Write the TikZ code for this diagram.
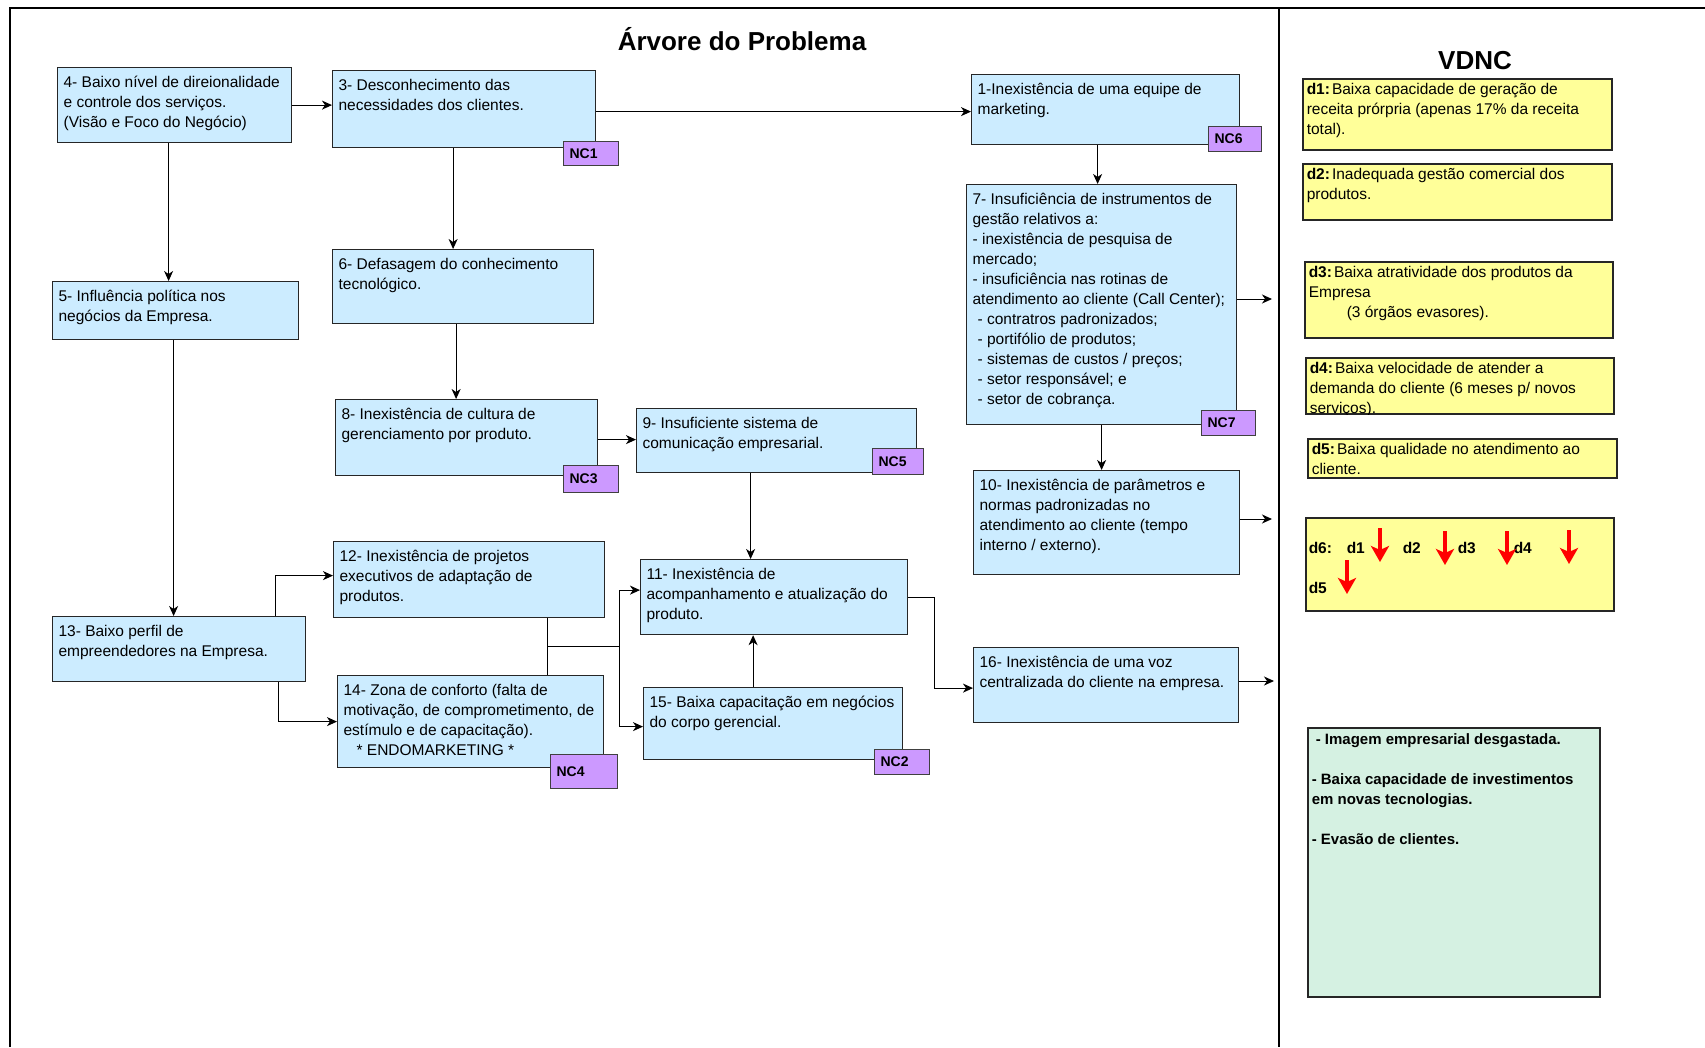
\documentclass[tikz,border=0pt]{standalone}
\usepackage{fontspec}
\setmainfont{Liberation Sans}
\usetikzlibrary{arrows.meta}

\definecolor{probblue}{HTML}{CCECFF}
\definecolor{ncpurple}{HTML}{CC99FF}
\definecolor{vdncyellow}{HTML}{FFFF99}
\definecolor{effgreen}{HTML}{D5F1E2}

% box text: width, height, left inset, first baseline, text
\newcommand{\boxtxt}[5]{\begin{minipage}[t][#2pt][t]{#1pt}\raggedright\leftskip=#3pt\rule{0pt}{#4pt}#5\end{minipage}}
\newcommand{\ptxt}[3]{\boxtxt{#1}{#2}{6}{19.5}{#3}}
\newcommand{\dtxt}[3]{\boxtxt{#1}{#2}{4}{16}{#3}}

\begin{document}
\begin{tikzpicture}[x=1pt,y=-1pt,
  prob/.style={draw=black!85,line width=1.2pt,fill=probblue,anchor=north west,inner sep=0pt,font=\fontsize{15.5}{20}\selectfont},
  nc/.style={draw=black!75,line width=1.2pt,fill=ncpurple,anchor=north west,inner xsep=6pt,inner ysep=0pt,align=left,font=\bfseries\fontsize{14}{16}\selectfont},
  vdnc/.style={draw=black!85,line width=1.5pt,fill=vdncyellow,anchor=north west,inner sep=0pt,font=\fontsize{15.5}{20}\selectfont},
  effect/.style={draw=black!85,line width=1.5pt,fill=effgreen,anchor=north west,inner sep=0pt,font=\bfseries\fontsize{15}{20}\selectfont},
  link/.style={-{Stealth[length=10pt,width=9pt,inset=3pt]},line width=1pt},
  wire/.style={line width=1pt},
  frame/.style={line width=2pt},
  down/.style={-{Stealth[length=16pt,width=18pt,inset=4pt]},line width=4pt,red}]

\useasboundingbox (0,0) rectangle (1705,1047);

%FRAME
\draw[frame] (10,1047) -- (10,8) -- (1705,8);
\draw[frame] (1279,8) -- (1279,1047);
%FRAME

\node[font=\bfseries\fontsize{26}{30}\selectfont,anchor=base](title) at (742,50) {Árvore do Problema};
\node[font=\bfseries\fontsize{26}{30}\selectfont,anchor=base](vdnchead) at (1475,69) {VDNC};

\node[prob](p4) at (57,67) {\ptxt{234}{75}{4- Baixo nível de direionalidade\\ e controle dos serviços.\\ (Visão e Foco do Negócio)}};
\node[prob](p3) at (332,70) {\ptxt{263}{77}{3- Desconhecimento das\\ necessidades dos clientes.}};
\node[prob](p1) at (971,74) {\ptxt{268}{70}{1-Inexistência de uma equipe de\\ marketing.}};
\node[prob](p6) at (332,249) {\ptxt{261}{74}{6- Defasagem do conhecimento\\ tecnológico.}};
\node[prob](p5) at (52,281) {\ptxt{246}{58}{5- Influência política nos\\ negócios da Empresa.}};
\node[prob](p7) at (966,184) {\ptxt{270}{240}{7- Insuficiência de instrumentos de\\ gestão relativos a:\\ - inexistência de pesquisa de\\ mercado;\\ - insuficiência nas rotinas de\\ atendimento ao cliente (Call Center);\\ \hspace*{5pt}- contratros padronizados;\\ \hspace*{5pt}- portifólio de produtos;\\ \hspace*{5pt}- sistemas de custos / preços;\\ \hspace*{5pt}- setor responsável; e\\ \hspace*{5pt}- setor de cobrança.}};
\node[prob](p8) at (335,399) {\ptxt{262}{76}{8- Inexistência de cultura de\\ gerenciamento por produto.}};
\node[prob](p9) at (636,408) {\ptxt{280}{64}{9- Insuficiente sistema de\\ comunicação empresarial.}};
\node[prob](p10) at (973,470) {\ptxt{266}{104}{10- Inexistência de parâmetros e\\ normas padronizadas no\\ atendimento ao cliente (tempo\\ interno / externo).}};
\node[prob](p12) at (333,541) {\ptxt{271}{76}{12- Inexistência de projetos\\ executivos de adaptação de\\ produtos.}};
\node[prob](p11) at (640,559) {\ptxt{267}{75}{11- Inexistência de\\ acompanhamento e atualização do\\ produto.}};
\node[prob](p13) at (52,616) {\ptxt{253}{65}{13- Baixo perfil de\\ empreendedores na Empresa.}};
\node[prob](p14) at (337,675) {\ptxt{266}{92}{14- Zona de conforto (falta de\\ motivação, de comprometimento, de\\ estímulo e de capacitação).\\ \hspace*{13pt}* ENDOMARKETING *}};
\node[prob](p15) at (643,687) {\ptxt{259}{72}{15- Baixa capacitação em negócios\\ do corpo gerencial.}};
\node[prob](p16) at (973,647) {\ptxt{265}{75}{16- Inexistência de uma voz\\ centralizada do cliente na empresa.}};

%NC TAGS
\node[nc,text width=43pt,minimum height=24pt](nc1) at (563,141) {NC1};
\node[nc,text width=41pt,minimum height=25pt](nc6) at (1208,126) {NC6};
\node[nc,text width=42pt,minimum height=25pt](nc7) at (1201,410) {NC7};
\node[nc,text width=43pt,minimum height=27pt](nc3) at (563,465) {NC3};
\node[nc,text width=39pt,minimum height=26pt](nc5) at (872,448) {NC5};
\node[nc,text width=55pt,minimum height=34pt](nc4) at (550,754) {NC4};
\node[nc,text width=43pt,minimum height=25pt](nc2) at (874,749) {NC2};
%NC TAGS

\draw[link] (p4.east) -- (p4.east -| p3.west);
\draw[link] ([yshift=-2.5pt]p3.east) -- ([yshift=-2.5pt]p3.east -| p1.west);
\draw[link] ([xshift=-6pt]p4.south) -- ([xshift=-6pt]p4.south |- p5.north);
\draw[link] ([xshift=-11pt]p3.south) -- ([xshift=-11pt]p3.south |- p6.north);
\draw[link] ([xshift=-8pt]p1.south) -- ([xshift=-8pt]p1.south |- p7.north);
\draw[link] ([xshift=-7pt]p6.south) -- ([xshift=-7pt]p6.south |- p8.north);
\draw[link] ([xshift=-2pt]p5.south) -- ([xshift=-2pt]p5.south |- p13.north);
\draw[link] ([yshift=-2pt]p8.east) -- ([yshift=-2pt]p8.east -| p9.west);
\draw[link] ([xshift=-26pt]p9.south) -- ([xshift=-26pt]p9.south |- p11.north);
\draw[link] (p7.south) -- (p7.south |- p10.north);
\draw[link] ([xshift=-20pt]p15.north) -- ([xshift=-20pt]p15.north |- p11.south);

\draw[link] ([xshift=96pt]p13.north) |- ([yshift=4pt]p12.west);
\draw[link] ([xshift=99pt]p13.south) |- (p14.west);

\coordinate (j1) at (547,646);
\coordinate (j2) at (619,646);
\draw[wire] (p12.south -| j1) -- (p14.north -| j1);
\draw[wire] (j1) -- (j2);
\draw[link] (j2) |- ([yshift=7pt]p11.west);
\draw[link] (j2) |- ([yshift=-3pt]p15.west);
\draw[link] (p11.east) -- ++(26,0) |- ([yshift=-3pt]p16.west);

%TO VDNC
\coordinate (e7) at (1272,299);
\coordinate (e10) at (1272,519);
\coordinate (e16) at (1274,681);
\draw[link] (p7.east |- e7) -- (e7);
\draw[link] (p10.east |- e10) -- (e10);
\draw[link] (p16.east |- e16) -- (e16);
%TO VDNC

\node[vdnc](d1) at (1302,78) {\dtxt{309}{71}{\textbf{d1:}\hspace{2pt}Baixa capacidade de geração de\\ receita prórpria (apenas 17\% da receita\\ total).}};
\node[vdnc](d2) at (1302,163) {\dtxt{309}{56}{\textbf{d2:}\hspace{2pt}Inadequada gestão comercial dos\\ produtos.}};
\node[vdnc](d3) at (1304,261) {\dtxt{308}{76}{\textbf{d3:}\hspace{2pt}Baixa atratividade dos produtos da\\ Empresa\\ \hspace*{38pt}(3 órgãos evasores).}};
\begin{scope}
\clip (1300,350) rectangle (1620,414);
\node[vdnc](d4) at (1305,357) {\dtxt{308}{56}{\textbf{d4:}\hspace{2pt}Baixa velocidade de atender a\\ demanda do cliente (6 meses p/ novos\\ serviços).}};
\end{scope}
\node[vdnc](d5) at (1307,438) {\dtxt{309}{39}{\textbf{d5:}\hspace{2pt}Baixa qualidade no atendimento ao\\ cliente.}};
\node[vdnc](d6) at (1305,517) {\boxtxt{308}{93}{3}{36}{\bfseries\makebox[38pt][l]{d6:}\makebox[56pt][l]{d1}\makebox[55pt][l]{d2}\makebox[56pt][l]{d3}d4\\[20pt]d5}};
\foreach \ax/\ay in {1380/528,1445/531,1507/531,1569/530,1347/560}
  \draw[down] (\ax,\ay) -- ++(0,34);

\node[effect](fx) at (1307,727) {\boxtxt{292}{269}{4}{17}{\hspace*{4pt}- Imagem empresarial desgastada.\\[20pt]- Baixa capacidade de investimentos\\ em novas tecnologias.\\[20pt]- Evasão de clientes.}};

\end{tikzpicture}
\end{document}
